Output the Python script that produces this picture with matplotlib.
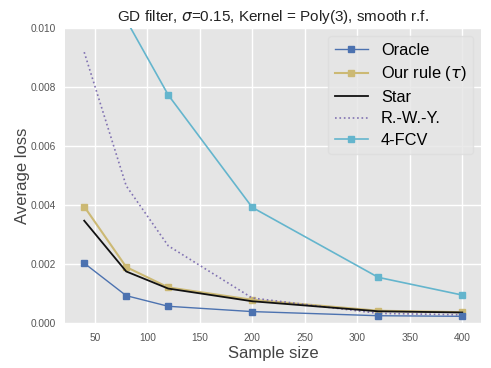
import matplotlib
matplotlib.use("Agg")
import matplotlib.pyplot as plt

sizes = [40, 80, 120, 200, 320, 400]
oracle = [0.00203, 0.00093, 0.00057, 0.00039, 0.00025, 0.00023]
our_rule = [0.00395, 0.00190, 0.00121, 0.00079, 0.00042, 0.00037]
star = [0.00347, 0.00175, 0.00117, 0.00074, 0.00040, 0.00036]
rwy = [0.00918, 0.00465, 0.00262, 0.00085, 0.00033, 0.00028]
fcv = [0.0185, 0.01027, 0.00773, 0.00392, 0.00155, 0.00095]

plt.rcParams['font.family'] = ['Liberation Sans', 'DejaVu Sans']
plt.rcParams['mathtext.fontset'] = 'dejavusans'

fig, ax = plt.subplots(figsize=(4.91, 3.68), dpi=100)
fig.subplots_adjust(left=0.133, right=0.98, top=0.924, bottom=0.122)
ax.set_facecolor('#E5E5E5')
for s in ax.spines.values():
    s.set_visible(False)
ax.grid(True, color='white', linewidth=1.0)
ax.set_axisbelow(True)

ax.plot(sizes, oracle, color='#4C72B0', marker='s', markersize=5, lw=1.0, label='Oracle', zorder=5)
ax.plot(sizes, our_rule, color='#CCB974', marker='s', markersize=5, lw=1.5, label=r'Our rule ($\tau$)', zorder=3)
ax.plot(sizes, star, color='#111111', lw=1.3, label='Star', zorder=4)
ax.plot(sizes, rwy, color='#8172B2', lw=1.2, ls=':', label='R.-W.-Y.', zorder=3)
ax.plot(sizes, fcv, color='#64B5CD', marker='s', markersize=5, lw=1.2, label='4-FCV', zorder=3)

ax.set_ylim(0, 0.010)
ax.set_yticks([0, 0.002, 0.004, 0.006, 0.008, 0.010])
ax.set_yticklabels(['0.000', '0.002', '0.004', '0.006', '0.008', '0.010'])
ax.set_xticks([50, 100, 150, 200, 250, 300, 350, 400])
ax.tick_params(axis='both', length=0, labelsize=7.3, labelcolor='#555555', pad=7)

ax.set_xlabel('Sample size', fontsize=12, color='#444444', labelpad=2)
ax.set_ylabel('Average loss', fontsize=12, color='#444444', labelpad=0.5)
ax.set_title(r'GD filter, $\sigma$=0.15, Kernel = Poly(3), smooth r.f.', fontsize=11, color='#222222', pad=5)

leg = ax.legend(loc='upper right', fontsize=11.8, frameon=True, fancybox=True,
                facecolor='#E5E5E5', edgecolor='#DDDDDD', framealpha=0.8,
                handlelength=2.0, labelspacing=0.4, borderpad=0.4, borderaxespad=0.5)

fig.savefig('out.png', dpi=100)
